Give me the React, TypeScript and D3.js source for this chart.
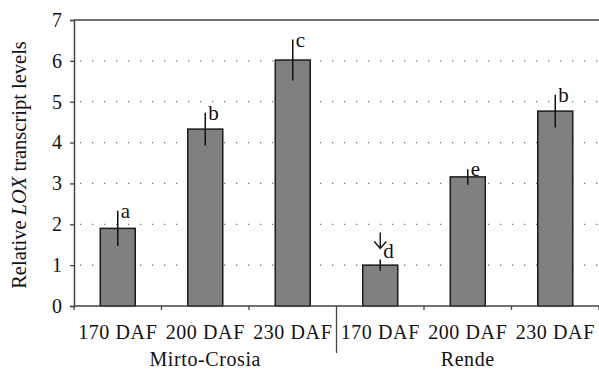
import * as d3 from "d3";
import { useEffect, useRef } from "react";

const stages = ["170 DAF", "200 DAF", "230 DAF", "170 DAF", "200 DAF", "230 DAF"];
const cultivars = ["Mirto-Crosia", "Rende"];
const values = [1.9, 4.33, 6.02, 1.0, 3.16, 4.77];
const errors = [0.43, 0.4, 0.5, 0.14, 0.19, 0.4];
const letters = ["a", "b", "c", "d", "e", "b"];
const arrowBars = [3];
const yTicks = [0, 1, 2, 3, 4, 5, 6, 7];

const App = () => {
  const ref = useRef<SVGSVGElement>(null);

  useEffect(() => {
    const width = 599;
    const height = 375;
    const margin = { top: 20, right: 0, bottom: 69, left: 74 };
    const font = "'Liberation Serif', 'Times New Roman', serif";

    const svg = d3.select(ref.current);
    svg.selectAll("*").remove();

    const x = d3
      .scaleBand<number>()
      .domain(d3.range(values.length))
      .range([margin.left, width - margin.right])
      .paddingInner(0.6)
      .paddingOuter(0.3);
    const y = d3
      .scaleLinear()
      .domain([0, 7])
      .range([height - margin.bottom, margin.top]);

    const step = x.step();
    const x0 = margin.left;
    const x1 = width - margin.right;

    // dotted gridlines
    svg
      .append("g")
      .selectAll("line")
      .data(yTicks.filter((t) => t > 0 && t < 7))
      .join("line")
      .attr("x1", x0 + 6)
      .attr("x2", x1)
      .attr("y1", (d) => y(d))
      .attr("y2", (d) => y(d))
      .attr("stroke", "#777")
      .attr("stroke-width", 1.3)
      .attr("stroke-dasharray", "1.3,10.7");

    // top border
    svg
      .append("line")
      .attr("x1", x0)
      .attr("x2", x1)
      .attr("y1", y(7))
      .attr("y2", y(7))
      .attr("stroke", "#444")
      .attr("stroke-width", 1.5);

    // bars
    svg
      .append("g")
      .selectAll("rect")
      .data(values)
      .join("rect")
      .attr("x", (_, i) => x(i)!)
      .attr("y", (d) => y(d))
      .attr("width", x.bandwidth())
      .attr("height", (d) => y(0) - y(d))
      .attr("fill", "#808080")
      .attr("stroke", "#1a1a1a")
      .attr("stroke-width", 1.5);

    // error bars
    svg
      .append("g")
      .selectAll("line")
      .data(values)
      .join("line")
      .attr("x1", (_, i) => x(i)! + x.bandwidth() / 2)
      .attr("x2", (_, i) => x(i)! + x.bandwidth() / 2)
      .attr("y1", (d, i) => y(d + errors[i]))
      .attr("y2", (d, i) => y(d - errors[i]))
      .attr("stroke", "#111")
      .attr("stroke-width", 1.5);

    // significance letters
    svg
      .append("g")
      .selectAll("text")
      .data(letters)
      .join("text")
      .attr("x", (_, i) => x(i)! + x.bandwidth() / 2 + 3)
      .attr("y", (_, i) => y(values[i] + errors[i]) + (arrowBars.includes(i) ? -1 : 7))
      .attr("font-family", font)
      .attr("font-size", 21)
      .attr("fill", "#111")
      .text((d) => d);

    // arrows
    arrowBars.forEach((i) => {
      const cx = x(i)! + x.bandwidth() / 2;
      const top = y(values[i] + errors[i]) - 27;
      const bot = y(values[i] + errors[i]) - 11;
      svg
        .append("path")
        .attr("d", `M${cx},${top}V${bot}M${cx - 6},${bot - 7}L${cx},${bot}L${cx + 6},${bot - 7}`)
        .attr("fill", "none")
        .attr("stroke", "#111")
        .attr("stroke-width", 1.4);
    });

    // y axis
    const yAxis = svg
      .append("g")
      .attr("transform", `translate(${x0},0)`)
      .call(d3.axisLeft(y).tickValues(yTicks).tickSize(4).tickPadding(8).tickFormat(d3.format("d")));
    yAxis.select(".domain").attr("stroke", "#444").attr("stroke-width", 1.5);
    yAxis.selectAll(".tick line").attr("stroke", "#444").attr("stroke-width", 1.3);
    yAxis
      .selectAll("text")
      .attr("font-family", font)
      .attr("font-size", 20)
      .attr("fill", "#111");

    // x axis
    const base = y(0);
    svg
      .append("line")
      .attr("x1", x0)
      .attr("x2", x1)
      .attr("y1", base)
      .attr("y2", base)
      .attr("stroke", "#444")
      .attr("stroke-width", 1.5);
    svg
      .append("g")
      .selectAll("line")
      .data(d3.range(values.length + 1))
      .join("line")
      .attr("x1", (i) => x0 + i * step)
      .attr("x2", (i) => x0 + i * step)
      .attr("y1", base)
      .attr("y2", (i) => (i === 3 ? base + 47 : base + 4))
      .attr("stroke", "#444")
      .attr("stroke-width", 1.3);

    svg
      .append("g")
      .selectAll("text")
      .data(stages)
      .join("text")
      .attr("x", (_, i) => x(i)! + x.bandwidth() / 2)
      .attr("y", base + 33)
      .attr("text-anchor", "middle")
      .attr("font-family", font)
      .attr("font-size", 20)
      .attr("letter-spacing", 0.6)
      .attr("fill", "#111")
      .text((d) => d);

    svg
      .append("g")
      .selectAll("text")
      .data(cultivars)
      .join("text")
      .attr("x", (_, g) => x0 + step * (3 * g + 1.5))
      .attr("y", base + 60)
      .attr("text-anchor", "middle")
      .attr("font-family", font)
      .attr("font-size", 20)
      .attr("letter-spacing", 0.6)
      .attr("fill", "#111")
      .text((d) => d);

    // y axis title
    const title = svg
      .append("text")
      .attr("transform", `translate(26,${(y(0) + y(7)) / 2 + 2}) rotate(-90)`)
      .attr("text-anchor", "middle")
      .attr("font-family", font)
      .attr("font-size", 20.5)
      .attr("fill", "#111");
    title.append("tspan").text("Relative ");
    title.append("tspan").attr("font-style", "italic").text("LOX");
    title.append("tspan").text(" transcript levels");
  }, []);

  return (
    <svg
      ref={ref}
      width={599}
      height={375}
      style={{ position: "absolute", left: 0, top: 0, background: "#fff" }}
    />
  );
};

export default App;
